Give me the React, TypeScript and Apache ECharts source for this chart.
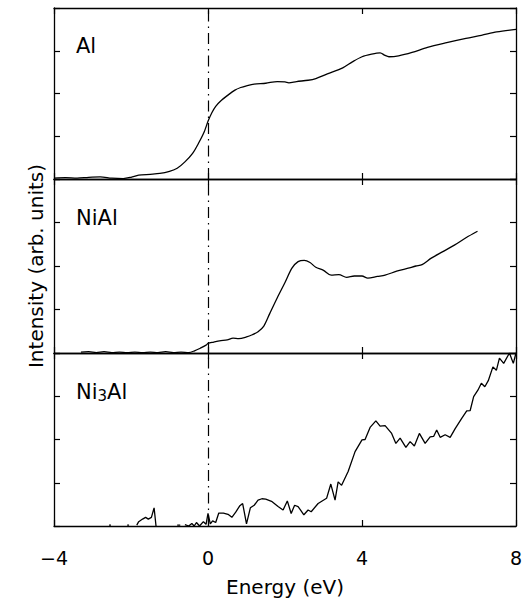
import React, { useEffect, useRef } from "react";
import * as echarts from "echarts";

const xTicks = [-4, 0, 4, 8];
const panelLabels = ["Al", "NiAl", "Ni3Al"];

const alData: [number, number][] = [
  [-4.0, 0.02], [-3.7, 0.03], [-3.4, 0.02], [-3.1, 0.04], [-2.8, 0.05], [-2.5, 0.02], [-2.2, 0.01],
  [-2.0, 0.04], [-1.8, 0.09], [-1.5, 0.11], [-1.25, 0.13], [-1.0, 0.18], [-0.8, 0.25], [-0.6, 0.4],
  [-0.4, 0.6], [-0.25, 0.83], [-0.1, 1.1], [0, 1.35], [0.1, 1.55], [0.2, 1.7], [0.35, 1.84],
  [0.5, 1.95], [0.7, 2.08], [0.85, 2.14], [1.0, 2.18], [1.2, 2.22], [1.5, 2.24], [1.8, 2.28],
  [2.0, 2.27], [2.1, 2.25], [2.3, 2.28], [2.6, 2.31], [2.8, 2.35], [3.1, 2.46], [3.5, 2.6],
  [3.75, 2.74], [4.0, 2.86], [4.25, 2.92], [4.47, 2.95], [4.6, 2.89], [4.7, 2.86], [4.95, 2.88],
  [5.3, 2.96], [5.7, 3.08], [6.2, 3.19], [6.7, 3.29], [7.1, 3.36], [7.5, 3.44], [8.0, 3.5],
];

const niAlData: [number, number][] = [
  [-3.3, 0.02], [-3.1, 0.03], [-2.9, 0.01], [-2.7, 0.03], [-2.5, 0.01], [-2.3, 0.02], [-2.1, 0.01],
  [-1.9, 0.02], [-1.7, 0.01], [-1.5, 0.02], [-1.3, 0.01], [-1.1, 0.03], [-0.9, 0.01], [-0.7, 0.02],
  [-0.5, 0.01], [-0.35, 0.05], [-0.2, 0.11], [-0.05, 0.18], [0.0, 0.22], [0.15, 0.25], [0.3, 0.28],
  [0.5, 0.3], [0.65, 0.34], [0.8, 0.33], [1.0, 0.37], [1.15, 0.42], [1.3, 0.49], [1.45, 0.62],
  [1.6, 0.9], [1.8, 1.27], [2.0, 1.62], [2.18, 1.95], [2.34, 2.1], [2.5, 2.13], [2.65, 2.08],
  [2.8, 1.97], [3.0, 1.9], [3.2, 1.79], [3.4, 1.8], [3.6, 1.74], [3.8, 1.77], [4.0, 1.77],
  [4.15, 1.72], [4.4, 1.76], [4.6, 1.79], [4.9, 1.88], [5.2, 1.95], [5.4, 2.0], [5.56, 2.03],
  [5.8, 2.18], [6.1, 2.33], [6.4, 2.48], [6.7, 2.65], [7.0, 2.8],
];

const ni3AlData: [number, number | string][] = [
  [-2.57, 0.02], [-2.52, 0.02], [-2.5, "-"], [-2.1, 0.02], [-2.05, 0.02], [-2.0, "-"],
  [-1.85, 0.02], [-1.8, 0.1], [-1.7, 0.16], [-1.62, 0.2], [-1.55, 0.16], [-1.47, 0.2], [-1.4, 0.42],
  [-1.35, 0.0], [-1.3, "-"], [-0.8, 0.02], [-0.72, 0.02], [-0.68, "-"], [-0.6, 0.03], [-0.5, 0.0],
  [-0.42, 0.06], [-0.36, 0.0], [-0.3, 0.08], [-0.22, 0.0], [-0.12, 0.1], [-0.05, 0.04], [0.0, 0.29],
  [0.06, 0.05], [0.12, 0.12], [0.2, 0.08], [0.28, 0.3], [0.4, 0.3], [0.52, 0.27], [0.62, 0.2],
  [0.72, 0.32], [0.82, 0.46], [0.9, 0.52], [1.0, 0.05], [1.1, 0.42], [1.2, 0.48], [1.3, 0.6],
  [1.4, 0.63], [1.5, 0.62], [1.65, 0.57], [1.82, 0.45], [1.95, 0.37], [2.06, 0.58], [2.16, 0.29],
  [2.25, 0.48], [2.34, 0.45], [2.49, 0.26], [2.6, 0.37], [2.68, 0.33], [2.86, 0.52], [3.08, 0.64],
  [3.19, 0.97], [3.3, 0.6], [3.38, 1.02], [3.47, 0.94], [3.64, 1.26], [3.82, 1.72], [4.0, 1.99],
  [4.08, 2.0], [4.21, 2.28], [4.36, 2.43], [4.47, 2.31], [4.6, 2.32], [4.77, 2.14], [4.88, 1.91],
  [4.99, 2.03], [5.14, 1.82], [5.25, 1.95], [5.36, 1.85], [5.49, 2.14], [5.64, 1.91], [5.77, 2.06],
  [5.86, 2.07], [5.94, 2.22], [6.03, 2.05], [6.16, 2.11], [6.29, 2.05], [6.42, 2.25], [6.59, 2.49],
  [6.72, 2.66], [6.81, 2.67], [6.9, 2.99], [7.01, 3.14], [7.1, 3.3], [7.19, 3.22], [7.28, 3.36],
  [7.4, 3.68], [7.49, 3.6], [7.57, 3.88], [7.68, 3.76], [7.83, 4.0], [7.93, 3.76], [8.0, 4.0],
];

const panelData = [alData, niAlData, ni3AlData];

const FONT = "DejaVu Sans";

export default function App() {
  const ref = useRef<HTMLDivElement>(null);
  useEffect(() => {
    if (!ref.current) return;
    const chart = echarts.init(ref.current, null, { renderer: "svg" });
    const grids = [
      { left: 54, right: 13, top: 8, height: 171 },
      { left: 54, right: 13, top: 179, height: 174 },
      { left: 54, right: 13, top: 353, height: 173 },
    ];
    const axisLine = { show: true, onZero: false, lineStyle: { color: "#000", width: 1.3 } };
    const tick = { show: true, inside: true, length: 6, lineStyle: { color: "#000", width: 1.2 } };
    const xAxes: any[] = [];
    const yAxes: any[] = [];
    const series: any[] = [];
    grids.forEach((_, i) => {
      const isBottom = i === 2;
      xAxes.push({
        type: "value", gridIndex: i, position: "bottom", min: -4, max: 8, interval: 4,
        axisLine, splitLine: { show: false }, axisTick: tick,
        axisLabel: {
          show: isBottom, margin: 22, color: "#000", fontFamily: FONT, fontSize: 19,
          formatter: (v: number) => (v < 0 ? "\u2212" + Math.abs(v) : String(v)),
        },
        name: isBottom ? "Energy (eV)" : "",
        nameLocation: "middle", nameGap: 51,
        nameTextStyle: { color: "#000", fontFamily: FONT, fontSize: 20 },
      });
      xAxes.push({
        type: "value", gridIndex: i, position: "top", min: -4, max: 8, interval: 4,
        axisLine, splitLine: { show: false }, axisTick: tick,
        axisLabel: { show: false },
      });
      yAxes.push({
        type: "value", gridIndex: i, position: "left", min: 0, max: 4, interval: 1,
        axisLine, splitLine: { show: false }, axisTick: tick,
        axisLabel: { show: false },
        name: i === 1 ? "Intensity (arb. units)" : "",
        nameLocation: "middle", nameGap: 8,
        nameTextStyle: { color: "#000", fontFamily: FONT, fontSize: 20 },
      });
      yAxes.push({
        type: "value", gridIndex: i, position: "right", min: 0, max: 4, interval: 1,
        axisLine, splitLine: { show: false }, axisTick: tick,
        axisLabel: { show: false },
      });
      series.push({
        type: "line", name: panelLabels[i], xAxisIndex: i * 2, yAxisIndex: i * 2,
        data: panelData[i], showSymbol: false, symbol: "none", connectNulls: false,
        smooth: i === 2 ? false : 0.3,
        lineStyle: { color: "#000", width: 1.3 },
        clip: true,
        markLine: {
          silent: true, symbol: "none", label: { show: false },
          lineStyle: { color: "#000", width: 1.2, type: [11, 5, 1.5, 5] },
          data: [{ xAxis: 0 }],
        },
      });
    });
    chart.setOption({
      animation: false,
      backgroundColor: "#fff",
      grid: grids,
      xAxis: xAxes,
      yAxis: yAxes,
      series,
      graphic: [
        { type: "text", x: 76, y: 46, style: { text: "Al", fill: "#000", font: `21px '${FONT}'`, textVerticalAlign: "middle" } },
        { type: "text", x: 76, y: 218, style: { text: "NiAl", fill: "#000", font: `21px '${FONT}'`, textVerticalAlign: "middle" } },
        {
          type: "text", x: 76, y: 392,
          style: {
            text: "{a|Ni}{b|3}{a|Al}", fill: "#000", textVerticalAlign: "middle",
            rich: {
              a: { fontFamily: FONT, fontSize: 21, fill: "#000" },
              b: { fontFamily: FONT, fontSize: 15, fill: "#000", padding: [8, 0, 0, 0] },
            },
          },
        },
      ],
    });
    return () => chart.dispose();
  }, []);
  return <div ref={ref} style={{ position: "fixed", left: 0, top: 0, width: 529, height: 601 }} />;
}
